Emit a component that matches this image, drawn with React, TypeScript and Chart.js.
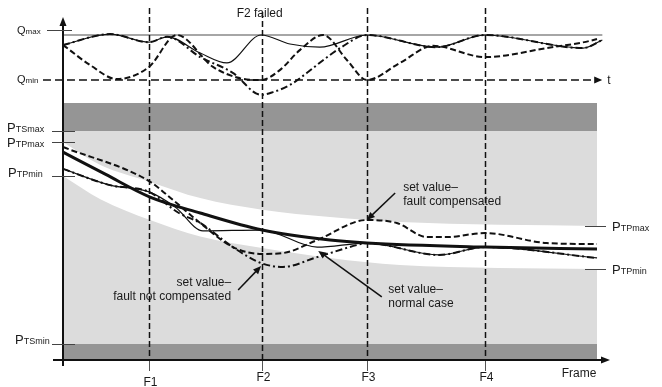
import React, { useEffect, useRef } from "react";
import { Chart, registerables } from "chart.js";

Chart.register(...registerables);

// ---------- frames ----------
const FRAMES = [16.1, 37.2, 56.9, 79.0];
const FRAME_LABELS = ["F1", "F2", "F3", "F4"];
const FRAME_LABEL_DY = [5, 0, 0, 0];
const FAILED_FRAME = 1;
const FAILED_TEXT = "F2 failed";
const X_AXIS_TITLE = "Frame";
const Q_AXIS_TITLE = "t";

// ---------- Q panel (Qmin = 0, Qmax = 1) ----------
const Q_MAX = 1;
const Q_MIN = 0;
const Q_SOLID_X = [0, 8.8, 16.1, 19.5, 25.7, 30.7, 37.1, 42.5, 48.1, 56.9, 70.0, 79.0, 97.4, 101];
const Q_SOLID = [0.78, 1.02, 0.84, 0.96, 0.6, 0.38, 1.0, 0.8, 0.73, 1.0, 0.73, 1.0, 0.71, 0.89];
const Q_DASHDOT_X = [0, 8.8, 16.1, 19.5, 25.7, 31.8, 37.1, 39.3, 42.5, 45.7, 48.7, 51.9, 56.9, 70.0, 79.0, 97.4, 101];
const Q_DASHDOT = [0.78, 1.02, 0.84, 0.96, 0.51, 0.16, -0.33, -0.27, -0.11, 0.16, 0.44, 0.71, 1.0, 0.73, 1.0, 0.71, 0.89];
const Q_DASHED_X = [0, 5.1, 10.1, 16.1, 21.3, 28.1, 33.1, 37.1, 40.6, 44.4, 48.7, 53.2, 56.9, 63.1, 69.3, 79.0, 90.6, 100, 101.1];
const Q_DASHED = [0.78, 0.33, 0.02, 0.29, 1.0, 0.29, 0.04, 0, 0.22, 0.67, 1.0, 0.44, 0, 0.38, 0.76, 0.51, 0.71, 0.91, 0.96];
const Q_LINE_X = [0, 101];
const Q_MIN_LINE_X = [-3.75, 100.6];

// ---------- P panel (PTSmin = 0, PTSmax = 100) ----------
const PTS_MAX = 100;
const PTS_MIN = 0;
const P_TOP_BAND = 113.15;
const P_FLOOR = -7.51;
const P_BAND_X = [0, 100];
const P_SET_NORMAL_X = [0, 8, 16.3, 25.7, 37.3, 50, 56.9, 79, 100];
const P_SET_NORMAL = [90.1, 79.6, 69.0, 61.5, 53.5, 48.8, 47.4, 45.5, 44.6];
const P_THIN_X = [0, 8.8, 16.1, 21, 26.2, 37.1, 47.6, 56.9, 70.4, 79, 100];
const P_THIN = [82.2, 74.6, 71.4, 64.3, 53.1, 53.5, 45.5, 47.4, 41.8, 45.5, 40.4];
const P_NOT_COMP_X = [0, 8.8, 16.1, 21.7, 25.7, 31.8, 37.1, 41.2, 47.6, 55.1, 56.9, 70.4, 79, 100];
const P_NOT_COMP = [82.2, 74.6, 71.4, 61.5, 56.8, 45.5, 38.0, 36.2, 40.8, 46.5, 47.4, 41.8, 45.5, 40.4];
const P_COMP_X = [0, 16.1, 20.6, 25.7, 31.8, 37.3, 41.2, 47.6, 56.9, 62.5, 68.2, 71.9, 79, 90.6, 100];
const P_COMP = [92.5, 76.5, 67.6, 56.8, 45.5, 42.3, 42.7, 48.8, 58.2, 56.8, 50.2, 50.2, 52.1, 47.4, 46.9];
const CORRIDOR_X = [0, 7, 16.3, 25.7, 37.3, 50, 63.1, 100];
const CORRIDOR_MAX = [94.8, 84, 76.1, 68.5, 63.0, 59.6, 57.3, 55.4];
const CORRIDOR_MIN = [78.9, 68, 58.2, 50.5, 45.1, 40.4, 37.1, 35.2];

// ---------- axis labels ----------
const LEFT_LABELS = [
  { main: "Q", sub: "max", axis: "yQ", value: 1.11 },
  { main: "Q", sub: "min", axis: "yQ", value: Q_MIN },
  { main: "P", sub: "TSmax", axis: "yP", value: PTS_MAX },
  { main: "P", sub: "TPmax", axis: "yP", value: CORRIDOR_MAX[0] },
  { main: "P", sub: "TPmin", axis: "yP", value: CORRIDOR_MIN[0] },
  { main: "P", sub: "TSmin", axis: "yP", value: PTS_MIN },
];
const RIGHT_LABELS = [
  { main: "P", sub: "TPmax", value: CORRIDOR_MAX[CORRIDOR_MAX.length - 1] },
  { main: "P", sub: "TPmin", value: CORRIDOR_MIN[CORRIDOR_MIN.length - 1] },
];

// ---------- annotations (text lines, arrow from -> to in data units) ----------
const NOTE_TEXT = [
  ["set value–", "fault compensated"],
  ["set value–", "fault not compensated"],
  ["set value–", "normal case"],
];

// layout / style (not data)
const LEFT_LABEL_STYLE = [
  { dx: -46, dy: 4, big: 11, small: 8, tick: [-16, 9] },
  { dx: -46, dy: 3, big: 11, small: 8, tick: null },
  { dx: -56, dy: 1, big: 13, small: 9, tick: [-11, 12] },
  { dx: -56, dy: 5, big: 13, small: 9, tick: [-11, 12] },
  { dx: -55, dy: 1, big: 13, small: 9, tick: [-11, 12] },
  { dx: -48, dy: 0, big: 13, small: 9, tick: [-11, 12] },
];
const NOTE_LAYOUT = [
  { x: 63.7, y: 71.8, align: "left", from: [62.2, 70.9], to: [56.9, 58.2] },
  { x: 31.5, y: 27.2, align: "right", from: [32.8, 25.4], to: [37.1, 36.6] },
  { x: 60.9, y: 23.9, align: "left", from: [59.7, 22.1], to: [47.8, 43.7] },
];

const FONT = '"Liberation Sans", Arial, sans-serif';
const DARK = "#959595";
const LIGHT = "#dcdcdc";
const INK = "#111111";

const pts = (xs: number[], ys: number[]) => xs.map((x, i) => ({ x, y: ys[i] }));
const flat = (xs: number[], v: number) => xs.map((x) => ({ x, y: v }));

function drawArrowHead(ctx: CanvasRenderingContext2D, x1: number, y1: number, x2: number, y2: number, len: number, half: number) {
  const a = Math.atan2(y2 - y1, x2 - x1);
  ctx.beginPath();
  ctx.moveTo(x2, y2);
  ctx.lineTo(x2 - len * Math.cos(a) + half * Math.sin(a), y2 - len * Math.sin(a) - half * Math.cos(a));
  ctx.lineTo(x2 - len * Math.cos(a) - half * Math.sin(a), y2 - len * Math.sin(a) + half * Math.cos(a));
  ctx.closePath();
  ctx.fill();
}

function drawSubLabel(ctx: CanvasRenderingContext2D, main: string, sub: string, x: number, baseline: number, big: number, small: number) {
  ctx.textAlign = "left";
  ctx.textBaseline = "alphabetic";
  ctx.font = `${big}px ${FONT}`;
  ctx.fillText(main, x, baseline);
  const w = ctx.measureText(main).width;
  ctx.font = `${small}px ${FONT}`;
  ctx.fillText(sub, x + w, baseline);
}

const overlayPlugin = {
  id: "overlay",
  afterDatasetsDraw(chart: any) {
    const { ctx, chartArea: ca, scales } = chart;
    const X = (v: number) => scales.x.getPixelForValue(v);
    const YQ = (v: number) => scales.yQ.getPixelForValue(v);
    const YP = (v: number) => scales.yP.getPixelForValue(v);
    const ax = Math.round(X(0));
    const base = Math.round(YP(P_FLOOR));
    ctx.save();

    // frame lines
    FRAMES.forEach((f, i) => {
      const fx = Math.round(X(f)) + 0.5;
      ctx.strokeStyle = INK;
      ctx.lineWidth = 1.5;
      ctx.setLineDash([6, 3]);
      ctx.beginPath();
      ctx.moveTo(fx, ca.top - (i === FAILED_FRAME ? 6 : 10));
      ctx.lineTo(fx, base);
      ctx.stroke();
      ctx.setLineDash([]);
      ctx.strokeStyle = "#555";
      ctx.lineWidth = 1;
      ctx.beginPath();
      ctx.moveTo(fx, base);
      ctx.lineTo(fx, base + 11);
      ctx.stroke();
      ctx.fillStyle = "#1a1a1a";
      ctx.font = `12px ${FONT}`;
      ctx.textAlign = "center";
      ctx.textBaseline = "alphabetic";
      ctx.fillText(FRAME_LABELS[i], fx + 1, base + 21 + FRAME_LABEL_DY[i]);
    });

    // F2 failed
    ctx.fillStyle = "#1a1a1a";
    ctx.font = `12px ${FONT}`;
    ctx.textAlign = "center";
    ctx.fillText(FAILED_TEXT, X(FRAMES[FAILED_FRAME]) - 2, ca.top - 1);

    // axes
    ctx.strokeStyle = INK;
    ctx.fillStyle = INK;
    ctx.lineWidth = 2;
    ctx.setLineDash([]);
    ctx.beginPath();
    ctx.moveTo(ax, base + 6);
    ctx.lineTo(ax, ca.top + 4);
    ctx.stroke();
    drawArrowHead(ctx, ax, base, ax, ca.top - 1, 9, 3.5);
    ctx.beginPath();
    ctx.moveTo(ax - 10, base);
    ctx.lineTo(ca.right + 8, base);
    ctx.stroke();
    drawArrowHead(ctx, ax, base, ca.right + 13, base, 9, 3.5);

    // Qmin arrow head + t
    const qy = Math.round(YQ(Q_MIN));
    drawArrowHead(ctx, ax, qy, X(Q_MIN_LINE_X[1]) + 2, qy, 8, 3.5);
    ctx.fillStyle = "#1a1a1a";
    ctx.font = `12px ${FONT}`;
    ctx.textAlign = "left";
    ctx.fillText(Q_AXIS_TITLE, X(Q_MIN_LINE_X[1]) + 7, qy + 4);

    // Frame title
    ctx.textAlign = "center";
    ctx.fillText(X_AXIS_TITLE, ca.right - 18, base + 17);

    // left labels
    LEFT_LABELS.forEach((l, i) => {
      const st = LEFT_LABEL_STYLE[i];
      const y = Math.round(l.axis === "yQ" ? YQ(l.value) : YP(l.value));
      if (st.tick) {
        ctx.strokeStyle = "#444";
        ctx.lineWidth = 1;
        ctx.beginPath();
        ctx.moveTo(ax + st.tick[0], y + 0.5);
        ctx.lineTo(ax + st.tick[1], y + 0.5);
        ctx.stroke();
      }
      ctx.fillStyle = "#1a1a1a";
      drawSubLabel(ctx, l.main, l.sub, ax + st.dx, y + st.dy, st.big, st.small);
    });

    // right labels
    RIGHT_LABELS.forEach((l) => {
      const y = Math.round(YP(l.value));
      ctx.strokeStyle = "#444";
      ctx.lineWidth = 1;
      ctx.beginPath();
      ctx.moveTo(ca.right - 12, y + 0.5);
      ctx.lineTo(ca.right + 9, y + 0.5);
      ctx.stroke();
      ctx.fillStyle = "#1a1a1a";
      drawSubLabel(ctx, l.main, l.sub, ca.right + 15, y + 5, 13, 9);
    });

    // annotations
    NOTE_TEXT.forEach((lines, i) => {
      const n = NOTE_LAYOUT[i];
      const tx = X(n.x);
      const ty = YP(n.y);
      ctx.fillStyle = "#1a1a1a";
      ctx.font = `12px ${FONT}`;
      ctx.textAlign = n.align as CanvasTextAlign;
      lines.forEach((s, k) => ctx.fillText(s, tx, ty + k * 14));
      const x1 = X(n.from[0]), y1 = YP(n.from[1]);
      const x2 = X(n.to[0]), y2 = YP(n.to[1]);
      ctx.strokeStyle = INK;
      ctx.fillStyle = INK;
      ctx.lineWidth = 1.5;
      const a = Math.atan2(y2 - y1, x2 - x1);
      ctx.beginPath();
      ctx.moveTo(x1, y1);
      ctx.lineTo(x2 - 6 * Math.cos(a), y2 - 6 * Math.sin(a));
      ctx.stroke();
      drawArrowHead(ctx, x1, y1, x2, y2, 8, 3.5);
    });

    ctx.restore();
  },
};

export default function App() {
  const ref = useRef<HTMLCanvasElement | null>(null);

  useEffect(() => {
    if (!ref.current) return;
    const line = (data: any[], yAxisID: string, extra: any) => ({
      data,
      yAxisID,
      pointRadius: 0,
      pointHoverRadius: 0,
      fill: false,
      borderColor: INK,
      cubicInterpolationMode: "monotone",
      clip: false,
      ...extra,
    });
    const band = (data: any[], fillTo: any, color: string, order: number) => ({
      data,
      yAxisID: "yP",
      pointRadius: 0,
      borderWidth: 0,
      borderColor: "transparent",
      backgroundColor: color,
      fill: fillTo,
      order,
    });

    const chart = new Chart(ref.current, {
      type: "line",
      data: {
        datasets: [
          // curves (top-most first)
          line(pts(Q_SOLID_X, Q_SOLID), "yQ", { borderWidth: 1.2, order: 1 }),
          line(pts(Q_DASHDOT_X, Q_DASHDOT), "yQ", { borderWidth: 2, borderDash: [7, 3, 2, 3], order: 1 }),
          line(pts(Q_DASHED_X, Q_DASHED), "yQ", { borderWidth: 2, borderDash: [6, 3], order: 1 }),
          line(pts(Q_MIN_LINE_X, [Q_MIN, Q_MIN]), "yQ", { borderWidth: 1.5, borderDash: [8, 4], order: 2, cubicInterpolationMode: "default", tension: 0 }),
          line(pts(Q_LINE_X, [Q_MAX, Q_MAX]), "yQ", { borderWidth: 1.5, borderColor: "#888888", order: 3, cubicInterpolationMode: "default", tension: 0 }),
          line(pts(P_SET_NORMAL_X, P_SET_NORMAL), "yP", { borderWidth: 3, order: 1 }),
          line(pts(P_THIN_X, P_THIN), "yP", { borderWidth: 1.2, order: 1 }),
          line(pts(P_NOT_COMP_X, P_NOT_COMP), "yP", { borderWidth: 2, borderDash: [7, 3, 2, 3], order: 1 }),
          line(pts(P_COMP_X, P_COMP), "yP", { borderWidth: 2, borderDash: [6, 3], order: 1 }),
          // corridor (white)
          {
            data: pts(CORRIDOR_X, CORRIDOR_MAX),
            yAxisID: "yP",
            pointRadius: 0,
            borderWidth: 0,
            borderColor: "transparent",
            backgroundColor: "#ffffff",
            cubicInterpolationMode: "monotone",
            fill: "+1",
            order: 5,
          },
          {
            data: pts(CORRIDOR_X, CORRIDOR_MIN),
            yAxisID: "yP",
            pointRadius: 0,
            borderWidth: 0,
            borderColor: "transparent",
            cubicInterpolationMode: "monotone",
            fill: false,
            order: 5,
          },
          // bands
          band(flat(P_BAND_X, P_TOP_BAND), { value: PTS_MAX }, DARK, 10),
          band(flat(P_BAND_X, PTS_MAX), { value: PTS_MIN }, LIGHT, 10),
          band(flat(P_BAND_X, PTS_MIN), { value: P_FLOOR }, DARK, 10),
        ] as any,
      },
      options: {
        responsive: false,
        animation: false,
        devicePixelRatio: 1,
        layout: { padding: { left: 63, right: 65, top: 18, bottom: 27 } },
        plugins: { legend: { display: false }, tooltip: { enabled: false } },
        events: [],
        scales: {
          x: { type: "linear", min: 0, max: 100, display: false },
          yQ: { type: "linear", min: -6.222, max: 1.378, display: false },
          yP: { type: "linear", min: P_FLOOR, max: 153.05, display: false },
        },
      } as any,
      plugins: [overlayPlugin],
    });
    return () => chart.destroy();
  }, []);

  return (
    <div style={{ position: "absolute", left: 0, top: 0, width: 662, height: 387, background: "#fff" }}>
      <canvas ref={ref} width={662} height={387} style={{ display: "block", width: 662, height: 387 }} />
    </div>
  );
}
